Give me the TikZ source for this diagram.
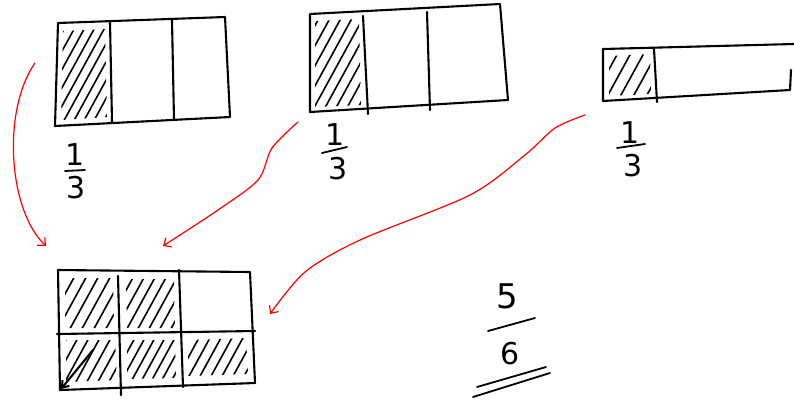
\documentclass[tikz,border=0pt]{standalone}
\usepackage{fontspec}
\setmainfont{DejaVu Sans}
\usetikzlibrary{arrows.meta}
\newcommand\myhatch[2]{%
  \begin{scope}
    \clip #1;
    \pgfmathtruncatemacro\hatchn{1020/#2}
    \foreach \k in {0,...,\hatchn} \draw[hatch] (-220+\k*#2,420) -- ++(230,-420);
  \end{scope}}
\begin{document}
\begin{tikzpicture}[x=1pt,y=-1pt,
  ink/.style={line width=2.1pt, line cap=round, line join=round},
  hatch/.style={line width=1.6pt, line cap=round},
  redarrow/.style={red, line width=1.2pt, line cap=round, -{Straight Barb[length=6pt,width=11pt]}},
  num/.style={font=\fontsize{30}{30}\selectfont, inner sep=0pt},
  bar/.style={line width=1.8pt, line cap=round}]
\useasboundingbox (0,0) rectangle (794,405);

% ---- box 1
\myhatch{(63,31) -- (105,29) -- (107,117) -- (61,120) -- cycle}{10}
\draw[ink] (58,23) -- (225,17) -- (230,117) -- (55,126) -- cycle;
\draw[ink] (110,22) -- (112,122);
\draw[ink] (172,20) -- (174,120);
\node[num] (n1) at (75,155) {1};
\node[num] (d1) at (76,188) {3};
\draw[bar] (65,171) -- (85,170);

% ---- box 2
\myhatch{(315,21) -- (359,19) -- (361,105) -- (315,107) -- cycle}{11}
\draw[ink] (310,14) -- (500,4) -- (508,100) -- (310,112) -- cycle;
\draw[ink] (363,16) -- (368,114);
\draw[ink] (427,12) -- (430,110);
\node[num] (n2) at (335,135) {1};
\node[num] (d2) at (338,169) {3};
\draw[bar] (322,153) -- (347,147);

% ---- box 3
\myhatch{(609,56) -- (650,54) -- (651,94) -- (609,96) -- cycle}{13}
\draw[ink] (603,49) -- (794,44);
\draw[ink] (603,49) -- (603,101) -- (790,90) -- (791,70);
\draw[ink] (654,49) -- (657,102);
\node[num] (n3) at (630,133) {1};
\node[num] (d3) at (633,166) {3};
\draw[bar] (617,148) -- (645,144);

% ---- bottom grid
\myhatch{(65,278) -- (113,278) -- (114,328) -- (65,328) -- cycle}{12}
\myhatch{(126,279) -- (174,279) -- (175,328) -- (127,328) -- cycle}{11}
\myhatch{(66,340) -- (115,340) -- (117,380) -- (66,382) -- cycle}{11}
\myhatch{(127,340) -- (175,340) -- (176,378) -- (127,379) -- cycle}{10}
\myhatch{(188,340) -- (246,338) -- (248,374) -- (188,376) -- cycle}{11}
\draw[ink] (58,270) -- (250,272) -- (255,383) -- (60,390) -- cycle;
\draw[ink] (57,334) -- (255,331);
\draw[ink] (118,276) -- (121,395);
\draw[ink] (179,270) -- (183,387);
\coordinate (bs) at (93,350);
\coordinate (be) at (61,389);
\draw[ink, -{Straight Barb[length=6pt,width=9pt]}] (bs) -- (be);

% ---- 5/6
\node[num, font=\fontsize{34}{34}\selectfont] (five) at (507,296) {5};
\draw[bar] (488,331) -- (535,318);
\node[num] (six) at (510,354) {6};
\draw[bar] (473,397) -- (550,373);
\draw[bar] (477,387) -- (546,367);

% ---- red arrows
\coordinate (r1s) at (35,63);
\coordinate (r1e) at (46,246);
\draw[redarrow] (r1s) .. controls (2,110) and (8,210) .. (r1e);
\coordinate (r2s) at (298,122);
\coordinate (r2e) at (163,246);
\draw[redarrow] plot[smooth] coordinates {(r2s) (272,148) (258,180) (218,210) (r2e)};
\coordinate (r3s) at (585,115);
\coordinate (r3e) at (270,314);
\draw[redarrow] plot[smooth] coordinates {(r3s) (555,128) (525,155) (470,195) (360,240) (305,272) (r3e)};
\end{tikzpicture}
\end{document}
